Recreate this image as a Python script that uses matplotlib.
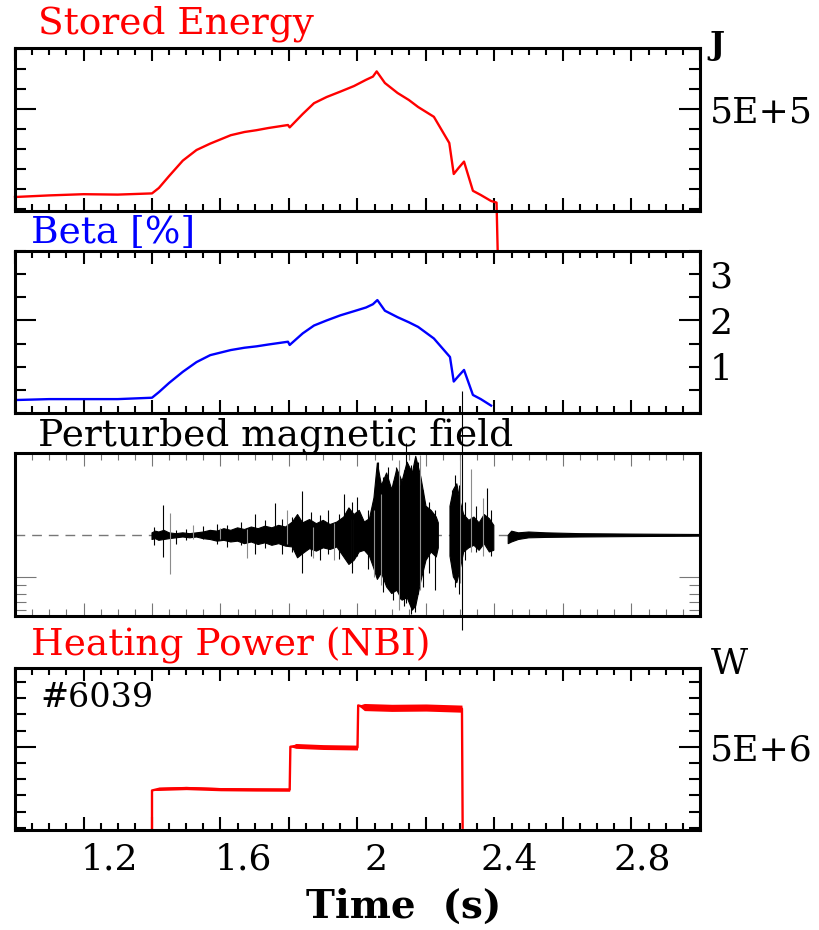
import numpy as np
import matplotlib
matplotlib.use('Agg')
import matplotlib.pyplot as plt
from matplotlib.ticker import MultipleLocator, FixedLocator
from matplotlib.transforms import ScaledTranslation

plt.rcParams['font.family'] = ['DejaVu Serif']

W, H = 820, 930

# stored energy [J]
we_t = [1.00, 1.10, 1.20, 1.30, 1.40, 1.42, 1.45, 1.49, 1.53, 1.57, 1.63, 1.67,
        1.705, 1.74, 1.797, 1.802, 1.84, 1.873, 1.91, 1.95, 1.99, 2.025, 2.045,
        2.056, 2.08, 2.117, 2.15, 2.177, 2.223, 2.268, 2.281, 2.295, 2.311,
        2.337, 2.36, 2.39, 2.406, 2.41]
we_v = [0.60e5, 0.68e5, 0.74e5, 0.72e5, 0.78e5, 1.05e5, 1.65e5, 2.42e5, 2.95e5,
        3.27e5, 3.69e5, 3.85e5, 3.94e5, 4.05e5, 4.20e5, 4.08e5, 4.75e5, 5.29e5,
        5.60e5, 5.87e5, 6.15e5, 6.46e5, 6.62e5, 6.88e5, 6.30e5, 5.80e5, 5.45e5,
        5.10e5, 4.61e5, 3.30e5, 1.75e5, 2.05e5, 2.37e5, 0.91e5, 0.70e5, 0.40e5,
        0.32e5, -2.63e5]

# beta [%]
beta_t = [1.00, 1.10, 1.20, 1.30, 1.40, 1.42, 1.45, 1.49, 1.53, 1.57, 1.63, 1.67,
          1.705, 1.74, 1.797, 1.802, 1.84, 1.873, 1.91, 1.95, 1.99, 2.025, 2.045,
          2.058, 2.08, 2.117, 2.15, 2.177, 2.223, 2.27, 2.281, 2.295, 2.311,
          2.337, 2.36, 2.39]
beta_v = [0.28, 0.30, 0.30, 0.30, 0.33, 0.45, 0.65, 0.89, 1.10, 1.25, 1.36, 1.41,
          1.44, 1.48, 1.54, 1.47, 1.72, 1.89, 2.00, 2.11, 2.20, 2.28, 2.35, 2.44,
          2.21, 2.07, 1.96, 1.86, 1.61, 1.21, 0.68, 0.80, 0.93, 0.39, 0.30, 0.16]

# magnetic probe signal: envelope of the fluctuation (arb. units)
mag_t = [1.400, 1.410, 1.420, 1.435, 1.450, 1.470, 1.490, 1.510, 1.530, 1.550,
         1.570, 1.590, 1.610, 1.630, 1.650, 1.670, 1.690, 1.710, 1.730, 1.750,
         1.770, 1.790, 1.810, 1.825, 1.840, 1.860, 1.880, 1.900, 1.920, 1.940,
         1.960, 1.975, 1.990, 2.005, 2.020, 2.035, 2.048, 2.058, 2.070, 2.085,
         2.100, 2.115, 2.130, 2.145, 2.160, 2.170, 2.185, 2.200, 2.215, 2.230,
         2.236, 2.237, 2.269, 2.270, 2.280, 2.290, 2.300, 2.310, 2.325, 2.340,
         2.355, 2.370, 2.385, 2.398, 2.399, 2.439, 2.440, 2.450, 2.470, 2.500,
         2.550, 2.650, 2.800, 3.000]
mag_hi = [0.03, 0.05, 0.04, 0.06, 0.03, 0.02, 0.03, 0.02, 0.03, 0.04,
          0.06, 0.05, 0.08, 0.06, 0.09, 0.07, 0.10, 0.08, 0.11, 0.09,
          0.12, 0.10, 0.16, 0.25, 0.15, 0.19, 0.14, 0.18, 0.13, 0.16,
          0.22, 0.33, 0.25, 0.30, 0.16, 0.20, 0.45, 0.87, 0.60, 0.75,
          0.55, 0.80, 0.65, 0.88, 0.75, 0.95, 0.70, 0.35, 0.30, 0.22,
          0.15, np.nan, np.nan, 0.35, 0.55, 0.62, 0.40, 0.25, 0.18, 0.22,
          0.15, 0.25, 0.20, 0.12, np.nan, np.nan, 0.00, 0.05, 0.03, 0.04,
          0.03, 0.02, 0.015, 0.01]
mag_lo = [-0.05, -0.04, -0.06, -0.05, -0.04, -0.03, -0.02, -0.03, -0.02, -0.04,
          -0.05, -0.07, -0.06, -0.08, -0.07, -0.10, -0.08, -0.11, -0.09, -0.12,
          -0.10, -0.13, -0.14, -0.27, -0.22, -0.16, -0.19, -0.15, -0.17, -0.14,
          -0.26, -0.35, -0.30, -0.20, -0.18, -0.25, -0.40, -0.53, -0.45, -0.62,
          -0.70, -0.66, -0.78, -0.75, -0.90, -0.85, -0.55, -0.30, -0.20, -0.26,
          -0.15, np.nan, np.nan, -0.25, -0.50, -0.57, -0.40, -0.20, -0.15, -0.12,
          -0.18, -0.10, -0.20, -0.18, np.nan, np.nan, -0.10, -0.08, -0.05, -0.03,
          -0.025, -0.02, -0.015, -0.01]

# isolated spikes of the probe signal (black and grey traces)
spk_t = [1.405, 1.431, 1.470, 1.500, 1.550, 1.590, 1.620, 1.660, 1.700, 1.730,
         1.759, 1.780, 1.810, 1.837, 1.865, 1.890, 1.915, 1.945, 1.960, 1.985,
         2.000, 2.030, 2.060, 2.075, 2.090, 2.105, 2.113, 2.124, 2.135, 2.143,
         2.155, 2.168, 2.178, 2.190, 2.210, 2.225, 2.275, 2.285, 2.295, 2.304,
         2.315, 2.345, 2.377, 2.390]
spk_hi = [0.10, 0.37, 0.06, 0.08, 0.11, 0.14, 0.12, 0.16, 0.26, 0.18,
          0.39, 0.20, 0.22, 0.53, 0.28, 0.25, 0.30, 0.26, 0.50, 0.40,
          0.46, 0.30, 0.88, 0.70, 0.82, 0.65, 0.82, 0.60, 0.78, 1.11,
          0.85, 0.93, 0.88, 0.55, 0.40, 0.30, 0.55, 0.72, 0.60, 1.73,
          0.40, 0.35, 0.57, 0.30]
spk_lo = [-0.12, -0.26, -0.10, -0.06, -0.05, -0.10, -0.14, -0.12, -0.22, -0.15,
          -0.10, -0.22, -0.20, -0.45, -0.25, -0.30, -0.22, -0.28, -0.20, -0.45,
          -0.25, -0.40, -0.45, -0.68, -0.60, -0.78, -0.65, -0.77, -0.85, -0.81,
          -0.95, -0.92, -0.70, -0.62, -0.45, -0.66, -0.40, -0.62, -0.70, -1.14,
          -0.30, -0.20, -0.14, -0.25]
spk2_t = [1.453, 1.520, 1.600, 1.677, 1.793, 1.871, 1.930, 1.983, 2.047, 2.070,
          2.120, 2.182, 2.300, 2.330, 2.365]
spk2_hi = [0.27, 0.13, 0.09, 0.08, 0.30, 0.10, 0.15, 0.20, 0.30, 0.50,
           0.90, 0.97, 0.97, 0.80, 0.45]
spk2_lo = [-0.47, -0.04, -0.05, -0.27, -0.10, -0.27, -0.30, -0.38, -0.50, -0.60,
           -0.90, -0.66, -0.57, -0.20, -0.25]

# NBI heating power [W]
nbi_t = [1.400, 1.400, 1.420, 1.500, 1.600, 1.700, 1.802, 1.804, 1.820, 1.900,
         2.000, 2.002, 2.020, 2.100, 2.200, 2.305, 2.307]
nbi_v = [0.0, 2.30e6, 2.40e6, 2.45e6, 2.38e6, 2.36e6, 2.35e6, 5.00e6, 5.05e6,
         4.98e6, 4.95e6, 7.55e6, 7.45e6, 7.40e6, 7.42e6, 7.35e6, 0.0]
nbi_band = [0.0, 0.0, 0.10e6, 0.10e6, 0.10e6, 0.10e6, 0.10e6, 0.0, 0.15e6, 0.15e6,
            0.15e6, 0.0, 0.22e6, 0.22e6, 0.22e6, 0.22e6, 0.0]

xmajor = [1.0, 1.2, 1.4, 1.6, 1.8, 2.0, 2.2, 2.4, 2.6, 2.8, 3.0]
xlabels = ['', '1.2', '', '1.6', '', '2', '', '2.4', '', '2.8', '']
xlabel_shift = [0, 26, 0, 23, 0, 19, 0, 15, 0, 11, 0]   # px


def px_axes(top, bottom):
    return [15 / W, 1 - bottom / H, 685 / W, (bottom - top) / H]


def style(ax, tick_color='black', tick_w=1.5):
    ax.set_xlim(1.0, 3.0)
    for s in ax.spines.values():
        s.set_linewidth(2.2)
    ax.xaxis.set_major_locator(FixedLocator(xmajor))
    ax.xaxis.set_minor_locator(MultipleLocator(0.05))
    ax.tick_params(axis='both', which='both', direction='in', top=True,
                   bottom=True, left=True, right=True, labelleft=False,
                   labelright=True, labelbottom=False, color=tick_color,
                   width=tick_w, labelsize=26, pad=7)
    ax.tick_params(axis='x', which='major', length=9.5)
    ax.tick_params(axis='x', which='minor', length=5)
    ax.tick_params(axis='y', which='major', length=15)
    ax.tick_params(axis='y', which='minor', length=8)


fig = plt.figure(figsize=(W / 100, H / 100), dpi=100)

# stored energy
ax1 = fig.add_axes(px_axes(48, 211))
ax1.plot(we_t, we_v, color='red', lw=1.7, clip_on=False)
ax1.set_ylim(-0.1e5, 8.05e5)
ax1.set_yticks([5e5], ['5E+5'])
ax1.yaxis.set_minor_locator(MultipleLocator(1e5))
style(ax1)

# beta
ax2 = fig.add_axes(px_axes(251, 413))
ax2.plot(beta_t, beta_v, color='blue', lw=1.7)
ax2.set_ylim(0.0, 3.5)
ax2.set_yticks([1, 2, 3], ['1', '2', '3'])
ax2.yaxis.set_minor_locator(MultipleLocator(0.5))
style(ax2)
for tk in ax2.yaxis.get_major_ticks():
    if tk.get_loc() != 2:
        tk.tick1line.set_markersize(8)
        tk.tick2line.set_markersize(8)

# perturbed magnetic field
ax3 = fig.add_axes(px_axes(453, 616))
ax3.axhline(0, color='#777777', lw=1, dashes=(7, 5), zorder=1)
ax3.fill_between(mag_t, mag_lo, mag_hi, color='black', lw=0.8, zorder=2)
ax3.vlines(spk2_t, spk2_lo, spk2_hi, color='#8c8c8c', lw=0.8, zorder=2)
ax3.vlines(spk_t, spk_lo, spk_hi, color='black', lw=0.8, zorder=3, clip_on=False)
ax3.set_ylim(-0.97, 0.99)
ax3.set_yticks([-0.5], [''])
ax3.yaxis.set_minor_locator(FixedLocator([-0.6, -0.7, -0.8, -0.9]))
style(ax3, tick_color='#777777', tick_w=0.8)

# heating power
ax4 = fig.add_axes(px_axes(668, 830))
nbi_lo = np.array(nbi_v) - np.array(nbi_band)
nbi_hi = np.array(nbi_v) + np.array(nbi_band)
ax4.fill_between(nbi_t, nbi_lo, nbi_hi, color='red', lw=0)
ax4.plot(nbi_t, nbi_v, color='red', lw=1.7)
ax4.set_ylim(-0.14e6, 9.86e6)
ax4.set_yticks([5e6], ['5E+6'])
ax4.yaxis.set_minor_locator(MultipleLocator(1e6))
style(ax4)
ax4.tick_params(axis='x', labelbottom=True, pad=9)
ax4.set_xticklabels(xlabels)
for lab, dx in zip(ax4.get_xticklabels(), xlabel_shift):
    lab.set_transform(lab.get_transform() + ScaledTranslation(dx / 100, 0, fig.dpi_scale_trans))

# titles and units
fig.text(38 / W, 1 - 34 / H, 'Stored Energy', color='red', fontsize=27, va='baseline')
fig.text(31 / W, 1 - 243 / H, 'Beta [%]', color='blue', fontsize=27, va='baseline')
fig.text(38 / W, 1 - 446 / H, 'Perturbed magnetic field', color='black', fontsize=27,
         va='baseline')
fig.text(31 / W, 1 - 656 / H, 'Heating Power (NBI)', color='red', fontsize=27,
         va='baseline')
fig.text(709 / W, 1 - 54 / H, 'J', fontsize=23, fontweight='bold', va='baseline')
fig.text(711 / W, 1 - 674 / H, 'W', fontsize=26, va='baseline')
fig.text(40 / W, 1 - 707 / H, '#6039', fontsize=24, va='baseline')
fig.text(404 / W, 1 - 918 / H, 'Time  (s)', fontsize=28, fontweight='bold',
         ha='center', va='baseline')

fig.savefig('out.png', dpi=100)
